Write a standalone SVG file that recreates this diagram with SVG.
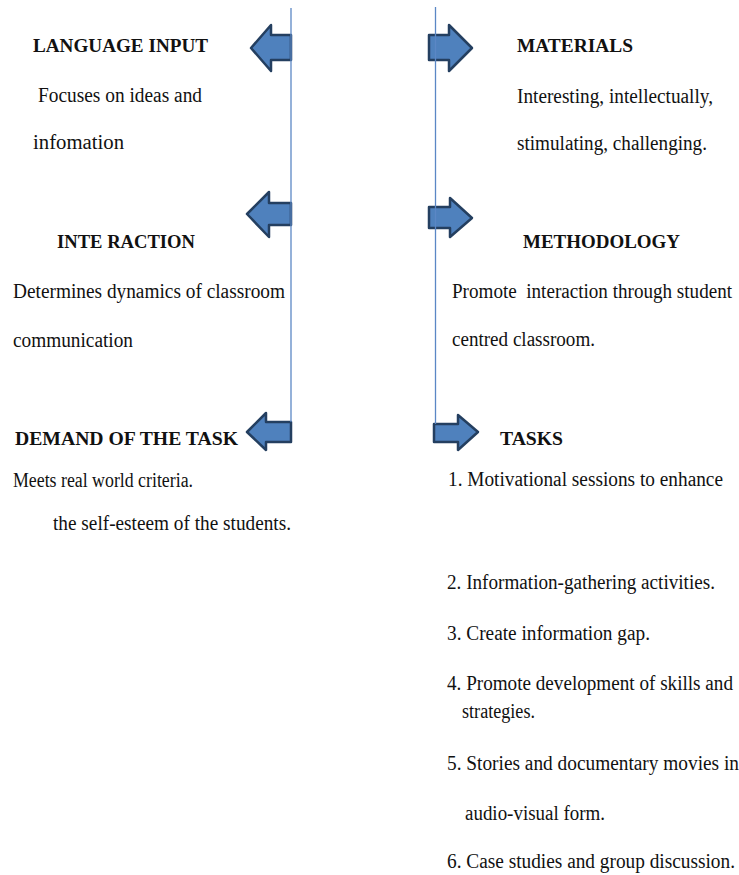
<svg xmlns="http://www.w3.org/2000/svg" width="739" height="875" viewBox="0 0 739 875">
<style>
.arrow{fill:#4F81BD;stroke:#243F60;stroke-width:2.5;stroke-linejoin:round}
.axis{stroke:#5B87C5;stroke-width:1.3;fill:none}
</style>
<rect width="739" height="875" fill="#fff"/>
<g id="connectors">
<polygon class="arrow" points="291,35 271,35 271,25 251,48 271,71 271,60 291,60"/>
<polygon class="arrow" points="291,203 269,203 269,192 247,214 269,237 269,225 291,225"/>
<polygon class="arrow" points="291,422 266,422 266,413 247,432 266,450 266,442 291,442"/>
<polygon class="arrow" points="429,35 449,35 449,25 472,48 449,71 449,60 429,60"/>
<polygon class="arrow" points="429,207 450,207 450,198 472,218 450,237 450,228 429,228"/>
<polygon class="arrow" points="434,424 458,424 458,415 478,432 458,450 458,442 434,442"/>
<line class="axis" x1="291" y1="8" x2="291" y2="422"/>
<line class="axis" x1="435.5" y1="7" x2="435.5" y2="424"/>
</g>
<g id="language-input">
<text style="font-family:'Liberation Serif','Times New Roman',serif;font-size:19px;font-weight:bold;fill:#111" x="33" y="52" textLength="175" lengthAdjust="spacingAndGlyphs">LANGUAGE INPUT</text>
<text style="font-family:'Liberation Serif','Times New Roman',serif;font-size:20px;fill:#111" x="38" y="102" textLength="164" lengthAdjust="spacingAndGlyphs">Focuses on ideas and</text>
<text style="font-family:'Liberation Serif','Times New Roman',serif;font-size:20px;fill:#111" x="33" y="149" textLength="91" lengthAdjust="spacingAndGlyphs">infomation</text>
</g>
<g id="materials">
<text style="font-family:'Liberation Serif','Times New Roman',serif;font-size:19px;font-weight:bold;fill:#111" x="517" y="52" textLength="116" lengthAdjust="spacingAndGlyphs">MATERIALS</text>
<text style="font-family:'Liberation Serif','Times New Roman',serif;font-size:20px;fill:#111" x="517" y="103" textLength="196" lengthAdjust="spacingAndGlyphs">Interesting, intellectually,</text>
<text style="font-family:'Liberation Serif','Times New Roman',serif;font-size:20px;fill:#111" x="517" y="150" textLength="190" lengthAdjust="spacingAndGlyphs">stimulating, challenging.</text>
</g>
<g id="interaction">
<text style="font-family:'Liberation Serif','Times New Roman',serif;font-size:19px;font-weight:bold;fill:#111" x="57" y="248" textLength="138" lengthAdjust="spacingAndGlyphs">INTE RACTION</text>
<text style="font-family:'Liberation Serif','Times New Roman',serif;font-size:20px;fill:#111" x="13" y="298" textLength="272" lengthAdjust="spacingAndGlyphs">Determines dynamics of classroom</text>
<text style="font-family:'Liberation Serif','Times New Roman',serif;font-size:20px;fill:#111" x="13" y="347" textLength="120" lengthAdjust="spacingAndGlyphs">communication</text>
</g>
<g id="methodology">
<text style="font-family:'Liberation Serif','Times New Roman',serif;font-size:19px;font-weight:bold;fill:#111" x="523" y="248" textLength="157" lengthAdjust="spacingAndGlyphs">METHODOLOGY</text>
<text style="font-family:'Liberation Serif','Times New Roman',serif;font-size:20px;fill:#111;white-space:pre" x="452" y="298" textLength="280" lengthAdjust="spacingAndGlyphs">Promote  interaction through student</text>
<text style="font-family:'Liberation Serif','Times New Roman',serif;font-size:20px;fill:#111" x="452" y="346" textLength="143" lengthAdjust="spacingAndGlyphs">centred classroom.</text>
</g>
<g id="demand-of-the-task">
<text style="font-family:'Liberation Serif','Times New Roman',serif;font-size:19px;font-weight:bold;fill:#111" x="15" y="445" textLength="223" lengthAdjust="spacingAndGlyphs">DEMAND OF THE TASK</text>
<text style="font-family:'Liberation Serif','Times New Roman',serif;font-size:20px;fill:#111" x="13" y="487" textLength="180" lengthAdjust="spacingAndGlyphs">Meets real world criteria.</text>
<text style="font-family:'Liberation Serif','Times New Roman',serif;font-size:20px;fill:#111" x="53" y="530" textLength="238" lengthAdjust="spacingAndGlyphs">the self-esteem of the students.</text>
</g>
<g id="tasks">
<text style="font-family:'Liberation Serif','Times New Roman',serif;font-size:19px;font-weight:bold;fill:#111" x="500" y="445" textLength="63" lengthAdjust="spacingAndGlyphs">TASKS</text>
<text style="font-family:'Liberation Serif','Times New Roman',serif;font-size:20px;fill:#111" x="448" y="486" textLength="275" lengthAdjust="spacingAndGlyphs">1. Motivational sessions to enhance</text>
<text style="font-family:'Liberation Serif','Times New Roman',serif;font-size:20px;fill:#111" x="447" y="589" textLength="268" lengthAdjust="spacingAndGlyphs">2. Information-gathering activities.</text>
<text style="font-family:'Liberation Serif','Times New Roman',serif;font-size:20px;fill:#111" x="447" y="640" textLength="203" lengthAdjust="spacingAndGlyphs">3. Create information gap.</text>
<text style="font-family:'Liberation Serif','Times New Roman',serif;font-size:20px;fill:#111" x="447" y="690" textLength="286" lengthAdjust="spacingAndGlyphs">4. Promote development of skills and</text>
<text style="font-family:'Liberation Serif','Times New Roman',serif;font-size:20px;fill:#111" x="462" y="718" textLength="73" lengthAdjust="spacingAndGlyphs">strategies.</text>
<text style="font-family:'Liberation Serif','Times New Roman',serif;font-size:20px;fill:#111" x="447" y="770" textLength="292" lengthAdjust="spacingAndGlyphs">5. Stories and documentary movies in</text>
<text style="font-family:'Liberation Serif','Times New Roman',serif;font-size:20px;fill:#111" x="465" y="820" textLength="140" lengthAdjust="spacingAndGlyphs">audio-visual form.</text>
<text style="font-family:'Liberation Serif','Times New Roman',serif;font-size:20px;fill:#111" x="447" y="868" textLength="288" lengthAdjust="spacingAndGlyphs">6. Case studies and group discussion.</text>
</g>
</svg>
